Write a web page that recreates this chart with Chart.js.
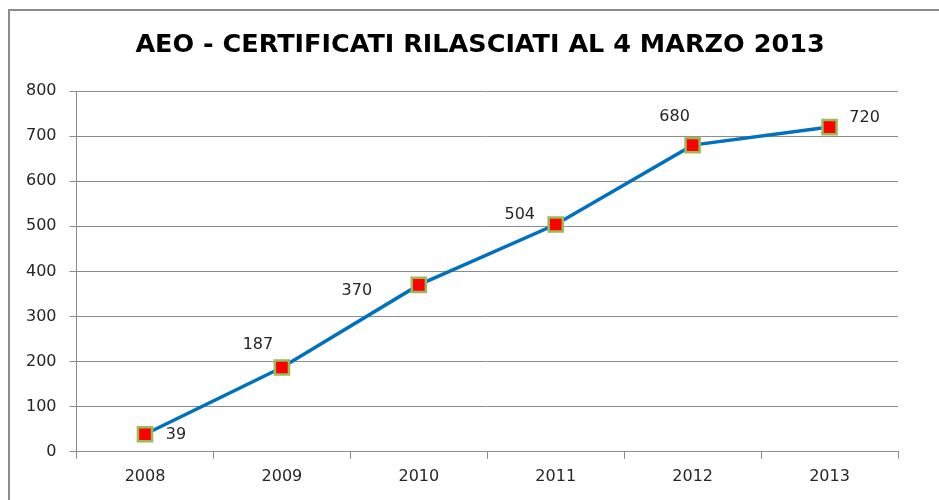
<!DOCTYPE html>
<html>
<head>
<meta charset="utf-8">
<script src="https://cdn.jsdelivr.net/npm/chart.js@4"></script>
<style>
  body { margin: 0; background: #fff; overflow: hidden; }
  #wrap { width: 939px; height: 500px; }
</style>
</head>
<body>
<div id="wrap"><canvas id="aeo"></canvas></div>
<script>
const years = ["2008", "2009", "2010", "2011", "2012", "2013"];
const certificates = [39, 187, 370, 504, 680, 720];
const yTicks = [0, 100, 200, 300, 400, 500, 600, 700, 800];
const chartTitle = "AEO - CERTIFICATI RILASCIATI AL 4 MARZO 2013";

// where each value label sits relative to its marker
const labelShift = [[31, 1], [-24, -23], [-62, 6], [-36, -10], [-18, -28], [35, -9]];

// outer frame (left + top edge only, the rest is cut off) and the title
const frame = {
  id: "frame",
  beforeDraw(chart) {
    const c = chart.ctx;
    c.save();
    c.fillStyle = "#fff";
    c.fillRect(0, 0, chart.width, chart.height);
    c.strokeStyle = "#8c8c8c";
    c.lineWidth = 2;
    c.beginPath();
    c.moveTo(9, chart.height);
    c.lineTo(9, 10);
    c.lineTo(chart.width, 10);
    c.stroke();
    c.font = "bold 25.5px 'DejaVu Sans'";
    c.fillStyle = "#000";
    c.textAlign = "center";
    c.textBaseline = "middle";
    c.fillText(chartTitle, 480, 45);
    c.restore();
  },
};

const valueLabels = {
  id: "valueLabels",
  afterDatasetsDraw(chart) {
    const c = chart.ctx;
    const pts = chart.getDatasetMeta(0).data;
    c.save();
    c.font = "16px 'DejaVu Sans'";
    c.fillStyle = "#262626";
    c.textAlign = "center";
    c.textBaseline = "middle";
    pts.forEach((p, i) => {
      c.fillText(certificates[i], p.x + labelShift[i][0], p.y + labelShift[i][1]);
    });
    c.restore();
  },
};

const ctx = document.getElementById("aeo").getContext("2d");
const chart = new Chart(ctx, {
  type: "line",
  data: {
    labels: years,
    datasets: [
      {
        label: "Certificati",
        data: certificates,
        borderColor: "#0070c0",
        borderWidth: 3.5,
        pointStyle: "rect",
        pointRadius: 10,
        pointBackgroundColor: "#ff0000",
        pointBorderColor: "#9bbb59",
        pointBorderWidth: 2.5,
        tension: 0,
      },
    ],
  },
  options: {
    responsive: true,
    maintainAspectRatio: false,
    animation: false,
    layout: { padding: { left: 13, right: 41, top: 91, bottom: 6 } },
    plugins: {
      legend: { display: false },
      tooltip: { enabled: false },
      title: { display: false },
    },
    scales: {
      x: {
        offset: true,
        grid: {
          offset: true,
          drawOnChartArea: false,
          color: "#8c8c8c",
          tickLength: 7,
        },
        border: { color: "#8c8c8c" },
        ticks: { color: "#262626", font: { family: "'DejaVu Sans'", size: 16 }, padding: 8 },
      },
      y: {
        min: 0,
        max: 800,
        afterBuildTicks(axis) {
          axis.ticks = yTicks.map((v) => ({ value: v }));
        },
        grid: { color: "#8c8c8c", tickLength: 7 },
        border: { color: "#8c8c8c" },
        ticks: { color: "#262626", font: { family: "'DejaVu Sans'", size: 16 }, padding: 13 },
      },
    },
  },
  plugins: [frame, valueLabels],
});
</script>
</body>
</html>
